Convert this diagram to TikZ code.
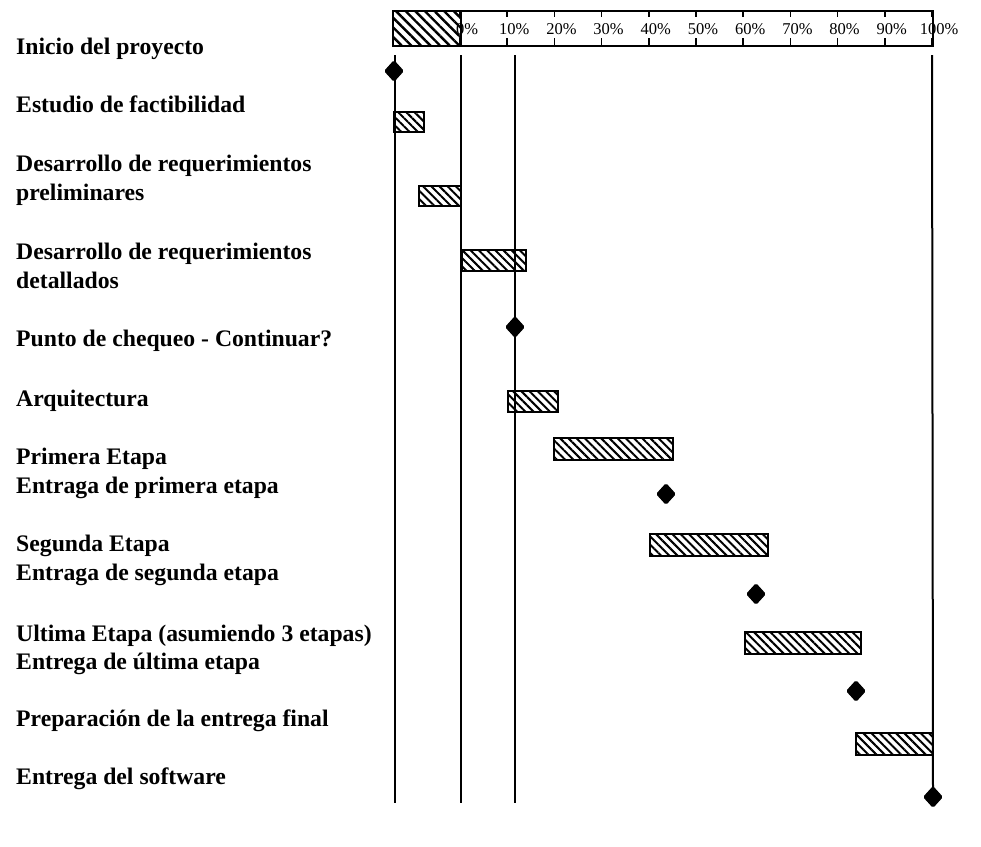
\documentclass[tikz,border=0pt]{standalone}
\usepackage{fontspec}
\setmainfont{Liberation Serif}
\usetikzlibrary{patterns.meta,shapes.geometric}
\begin{document}
\begin{tikzpicture}[x=1pt,y=-1pt,
  lbl/.style={anchor=base west, font=\fontsize{23.7}{28}\selectfont\bfseries, inner sep=0pt},
  pct/.style={font=\fontsize{16.5}{18}\selectfont, inner sep=0pt},
  hatchbar/.style={draw, line width=1.8pt, anchor=north west, inner sep=0pt,
    pattern={Lines[angle=-45,distance=5.8pt,line width=2pt]}},
  ms/.style={diamond, fill=black, draw=black, line width=1pt, rounded corners=1.5pt,
    inner sep=0pt, minimum width=19pt, minimum height=21pt},
  vline/.style={line width=2pt},
  tick/.style={line width=1.5pt}]
\useasboundingbox (0,0) rectangle (981,846);
\fill[white] (0,0) rectangle (981,846);

% header scale
\node[draw, line width=2pt, anchor=north west, inner sep=0pt,
      minimum width=540pt, minimum height=35pt] (hdr) at (392,10) {};
\node[draw, line width=2pt, anchor=north west, inner sep=0pt,
      minimum width=68pt, minimum height=35pt,
      pattern={Lines[angle=-45,distance=6.8pt,line width=2.4pt]}] (hhatch) at (392,10) {};
\foreach \k/\t in {0/0,1/10,2/20,3/30,4/40,5/50,6/60,7/70,8/80,9/90,10/100} {
  \pgfmathsetmacro\tx{460+47.2*\k}
  \draw[tick] (\tx,10) -- (\tx,17) (\tx,38) -- (\tx,45);
  \node[pct] (p\k) at (\tx+7,29) {\t\%};
}

% vertical guide lines
\coordinate (v1t) at (394.5,55); \coordinate (v1b) at (394.5,803);
\coordinate (v2t) at (461,55);   \coordinate (v2b) at (461,803);
\coordinate (v3t) at (515,55);   \coordinate (v3b) at (515,803);
\coordinate (v4t) at (932,55);
\draw[vline] (v1t) -- (v1b);
\draw[vline] (v2t) -- (v2b);
\draw[vline] (v3t) -- (v3b);

% bars
\node[hatchbar, minimum width=30pt,  minimum height=20pt] (b1) at (393,111) {};
\node[hatchbar, minimum width=42pt,  minimum height=20pt] (b2) at (418,185) {};
\node[hatchbar, minimum width=64pt,  minimum height=21pt] (b3) at (461,249) {};
\node[hatchbar, minimum width=50pt,  minimum height=21pt] (b4) at (507,390) {};
\node[hatchbar, minimum width=119pt, minimum height=22pt] (b5) at (553,437) {};
\node[hatchbar, minimum width=118pt, minimum height=22pt] (b6) at (649,533) {};
\node[hatchbar, minimum width=116pt, minimum height=22pt] (b7) at (744,631) {};
\node[hatchbar, minimum width=77pt,  minimum height=22pt] (b8) at (855,732) {};

% milestones
\node[ms] (m1) at (394,71) {};
\node[ms] (m2) at (515,327) {};
\node[ms] (m3) at (666,494) {};
\node[ms] (m4) at (756,594) {};
\node[ms] (m5) at (856,691) {};
\node[ms] (m6) at (933,797) {};
\draw[vline] (v4t) -- (m6.center);

% labels
\node[lbl] (l1)  at (16,54)    {Inicio del proyecto};
\node[lbl] (l2)  at (16,112.7) {Estudio de factibilidad};
\node[lbl] (l3a) at (16,171.7) {Desarrollo de requerimientos};
\node[lbl] (l3b) at (16,200)   {preliminares};
\node[lbl] (l4a) at (16,259)   {Desarrollo de requerimientos};
\node[lbl] (l4b) at (16,288)   {detallados};
\node[lbl] (l5)  at (16,346.7) {Punto de chequeo - Continuar?};
\node[lbl] (l6)  at (16,406)   {Arquitectura};
\node[lbl] (l7a) at (16,464)   {Primera Etapa};
\node[lbl] (l7b) at (16,493.3) {Entraga de primera etapa};
\node[lbl] (l8a) at (16,551.7) {Segunda Etapa};
\node[lbl] (l8b) at (16,580.7) {Entraga de segunda etapa};
\node[lbl] (l9a) at (16,641.7) {Ultima Etapa (asumiendo 3 etapas)};
\node[lbl] (l9b) at (16,669)   {Entrega de última etapa};
\node[lbl] (l10) at (16,726.7) {Preparación de la entrega final};
\node[lbl] (l11) at (16,784)   {Entrega del software};
\end{tikzpicture}
\end{document}
